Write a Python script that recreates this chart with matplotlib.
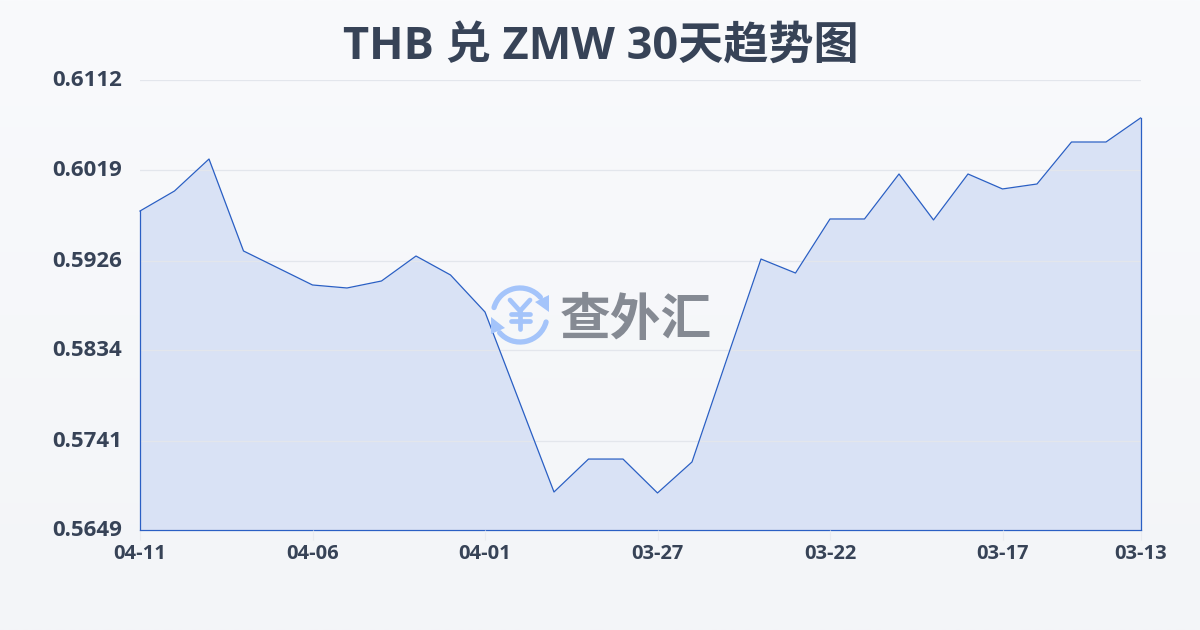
import numpy as np
import matplotlib
matplotlib.use('Agg')
import matplotlib.pyplot as plt
from matplotlib.patches import Arc, Polygon
from matplotlib.transforms import ScaledTranslation

plt.rcParams['font.family'] = ['Open Sans', 'Noto Sans CJK SC', 'DejaVu Sans']

title = 'THB 兑 ZMW 30天趋势图'
values = [0.59772, 0.59978, 0.60307, 0.59361, 0.59186, 0.59011, 0.58980, 0.59052,
          0.59309, 0.59114, 0.58733, 0.57807, 0.56881, 0.57220, 0.57220, 0.56871,
          0.57190, 0.58239, 0.59278, 0.59134, 0.59690, 0.59690, 0.60153, 0.59680,
          0.60153, 0.59999, 0.60050, 0.60482, 0.60482, 0.60729]
y_ticks = [0.5649, 0.5741, 0.5834, 0.5926, 0.6019, 0.6112]
x_ticks = [0, 5, 10, 15, 20, 25, 29]
x_labels = ['04-11', '04-06', '04-01', '03-27', '03-22', '03-17', '03-13']

W, H = 1200, 630
text_col = '#374357'
line_col = '#2a5fc4'

fig = plt.figure(figsize=(12, 6.3), dpi=100)

# background gradient
bg = fig.add_axes([0, 0, 1, 1], zorder=0)
bg.imshow(np.linspace(0, 1, 256).reshape(-1, 1),
          aspect='auto', extent=[0, W, H, 0],
          cmap=matplotlib.colors.LinearSegmentedColormap.from_list('bg', ['#f9fafc', '#f3f5f8']))
bg.axis('off')

ax = fig.add_axes([140 / W, 1 - 530 / H, 1000.5 / W, 450 / H], zorder=1)
ax.patch.set_alpha(0)
x = np.arange(len(values))
ax.fill_between(x, values, y_ticks[0], color='#d9e2f5', lw=0, zorder=2)
ax.plot(x, values, color=line_col, lw=0.9, zorder=3, clip_on=False)
ax.plot([0, 0], [y_ticks[0], values[0]], color=line_col, lw=0.9, zorder=3, clip_on=False)
ax.plot([29, 29], [y_ticks[0], values[-1]], color=line_col, lw=0.9, zorder=3, clip_on=False)
ax.set_xlim(0, 29)
ax.set_ylim(y_ticks[0], y_ticks[-1])

ax.set_yticks(y_ticks)
ax.set_yticklabels([f'{v:.4f}' for v in y_ticks])
ax.set_xticks(x_ticks)
ax.set_xticklabels(x_labels)
ax.grid(axis='y', color='#e3e6ec', lw=0.9, zorder=4)
ax.set_axisbelow(False)
ax.tick_params(axis='y', length=0, pad=13, labelsize=16, labelcolor=text_col)
ax.tick_params(axis='x', length=7, width=0.8, color='#e9ebf0', pad=3, labelsize=14.5, labelcolor=text_col)
up = ScaledTranslation(0, 2 / 100, fig.dpi_scale_trans)
for lab in ax.get_yticklabels():
    lab.set_fontweight('bold')
    lab.set_transform(lab.get_transform() + up)
for lab in ax.get_xticklabels():
    lab.set_fontweight('bold')
for name, sp in ax.spines.items():
    sp.set_visible(name == 'bottom')
ax.spines['bottom'].set_color(line_col)
ax.spines['bottom'].set_linewidth(0.9)

fig.text(600.5 / W, 1 - 47 / H, title, ha='center', va='center', fontsize=32.5,
         fontweight='bold', color=text_col)

# watermark, pixel coordinates
wm = fig.add_axes([0, 0, 1, 1], zorder=5)
blue = '#a4c4fa'
cx, cy = 520, 315
wm.add_patch(Arc((cx, cy), 54, 54, theta1=196, theta2=319, color=blue, lw=3.8, capstyle='round'))
wm.add_patch(Arc((cx, cy), 54, 54, theta1=15, theta2=139, color=blue, lw=3.8, capstyle='round'))
wm.add_patch(Polygon([[535, 302], [549, 295], [549, 312]], closed=True, color=blue, lw=0))
wm.add_patch(Polygon([[505, 328], [491, 317], [491, 334]], closed=True, color=blue, lw=0))
for xs, ys in [([510, 520, 530], [300, 311, 300]), ([511, 530], [314, 314]),
               ([511, 530], [321, 321]), ([520, 520], [311, 329])]:
    wm.plot(xs, ys, color=blue, lw=3.4, solid_capstyle='round')
wm.set_xlim(0, W)
wm.set_ylim(H, 0)
wm.axis('off')
wm.text(636, 322, '查外汇', ha='center', va='center', fontsize=36.5, fontweight='bold', color='#858a93')

fig.savefig('out.png', dpi=100)
